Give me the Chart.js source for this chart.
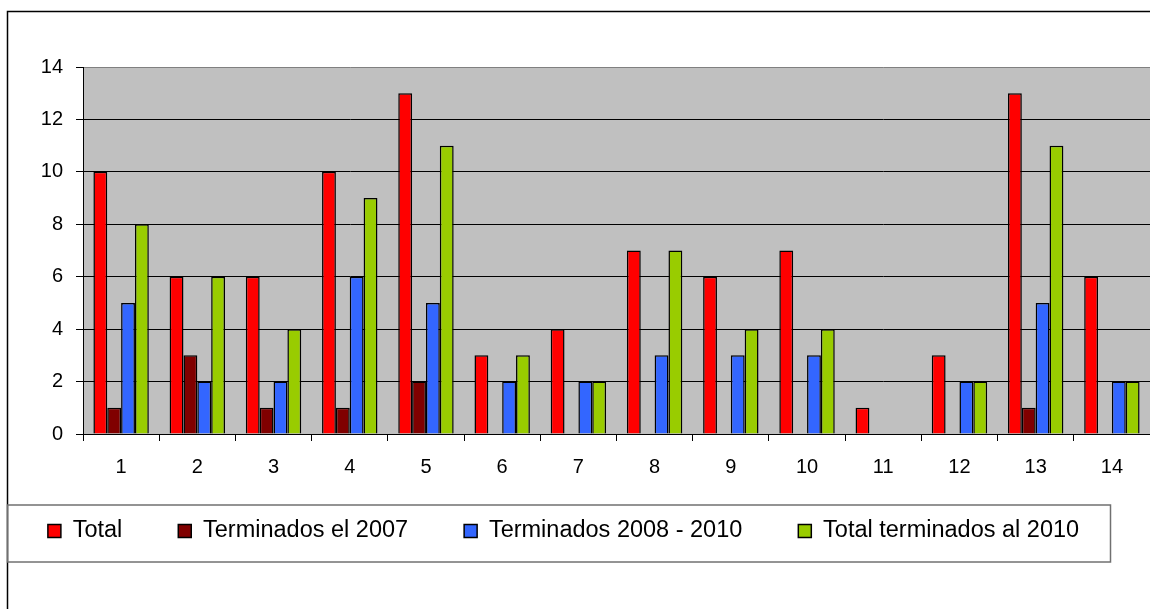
<!DOCTYPE html>
<html>
<head>
<meta charset="utf-8">
<script src="https://cdn.jsdelivr.net/npm/chart.js@4"></script>
<style>
  html, body { margin: 0; padding: 0; background: #fff; }
  #wrap { width: 1150px; height: 609px; }
</style>
</head>
<body>
<div id="wrap"><canvas id="chart1" width="1150" height="609"></canvas></div>
<script>
var labels = ['1', '2', '3', '4', '5', '6', '7', '8', '9', '10', '11', '12', '13', '14'];
var total = [10, 6, 6, 10, 13, 3, 4, 7, 6, 7, 1, 3, 13, 6];
var term2007 = [1, 3, 1, 1, 2, 0, 0, 0, 0, 0, 0, 0, 1, 0];
var term2008_2010 = [5, 2, 2, 6, 5, 2, 2, 3, 3, 3, 0, 2, 5, 2];
var totalAl2010 = [8, 6, 4, 9, 11, 3, 2, 7, 4, 4, 0, 2, 11, 2];
var yTicks = [0, 2, 4, 6, 8, 10, 12, 14];

var LEG_PAD = 56;
var LEG_FONT = 23.5;
var LEG_MID = 531;

// frame, grey plot area and box round the legend
var decor = {
    id: 'decor',
    afterLayout: function(chart) {
        // legend sits higher than its layout slot, over the x label band
        var lg = chart.legend;
        var dy = lg.top - (LEG_MID - LEG_PAD - LEG_FONT / 2);
        lg.top -= dy; lg.bottom -= dy;
        lg.left -= 11.5; lg.right -= 11.5;
    },
    beforeDraw: function(chart) {
        var c = chart.ctx, a = chart.chartArea;
        c.save();
        c.fillStyle = '#fff';
        c.fillRect(0, 0, chart.width, chart.height);
        c.fillStyle = '#c0c0c0';
        c.fillRect(a.left, a.top, a.right - a.left, a.bottom - a.top);
        c.strokeStyle = '#000';
        c.lineWidth = 1.5;
        c.beginPath();
        c.moveTo(7.5, chart.height);
        c.lineTo(7.5, 11.5);
        c.lineTo(chart.width, 11.5);
        c.stroke();
        c.strokeStyle = '#707070';
        c.lineWidth = 1.5;
        c.strokeRect(7.5, LEG_MID - 26, 1103, 57);
        c.restore();
    }
};

var ctx1 = document.getElementById('chart1').getContext('2d');

var chart1 = new Chart(ctx1, {
    type: 'bar',
    data: {
        labels: labels,
        datasets: [{
            label: 'Total',
            data: total,
            backgroundColor: '#ff0000'
        }, {
            label: 'Terminados el 2007',
            data: term2007,
            backgroundColor: '#800000'
        }, {
            label: 'Terminados 2008 - 2010',
            data: term2008_2010,
            backgroundColor: '#3366ff'
        }, {
            label: 'Total terminados al 2010',
            data: totalAl2010,
            backgroundColor: '#99cc00'
        }]
    },
    options: {
        responsive: false,
        animation: false,
        events: [],
        layout: { padding: { top: 67, left: 0, right: 0, bottom: 25.5 } },
        datasets: {
            bar: {
                borderColor: '#000',
                borderWidth: 1.5,
                categoryPercentage: 0.727,
                barPercentage: 1.0
            }
        },
        plugins: {
            tooltip: { enabled: false },
            legend: {
                position: 'bottom',
                labels: {
                    boxWidth: 13,
                    boxHeight: 13,
                    padding: LEG_PAD,
                    color: '#000',
                    font: { family: 'Liberation Sans', size: LEG_FONT }
                }
            }
        },
        scales: {
            x: {
                afterFit: function(s) { s.height = 60; },
                grid: {
                    offset: true,
                    drawOnChartArea: false,
                    drawTicks: true,
                    tickLength: 7,
                    color: '#000'
                },
                border: { color: '#000', width: 1 },
                ticks: {
                    color: '#000',
                    padding: 14,
                    font: { family: 'Liberation Sans', size: 20 }
                }
            },
            y: {
                min: 0,
                max: 14,
                afterFit: function(s) { s.width = 83; },
                afterBuildTicks: function(s) {
                    s.ticks = yTicks.map(function(v) { return { value: v }; });
                },
                grid: {
                    color: function(c) { return c.tick && c.tick.value === 14 ? '#808080' : '#000'; },
                    tickColor: '#000',
                    tickLength: 7
                },
                border: { color: '#000', width: 1 },
                ticks: {
                    color: '#000',
                    padding: 13,
                    font: { family: 'Liberation Sans', size: 20 }
                }
            }
        }
    },
    plugins: [decor]
});
</script>
</body>
</html>
